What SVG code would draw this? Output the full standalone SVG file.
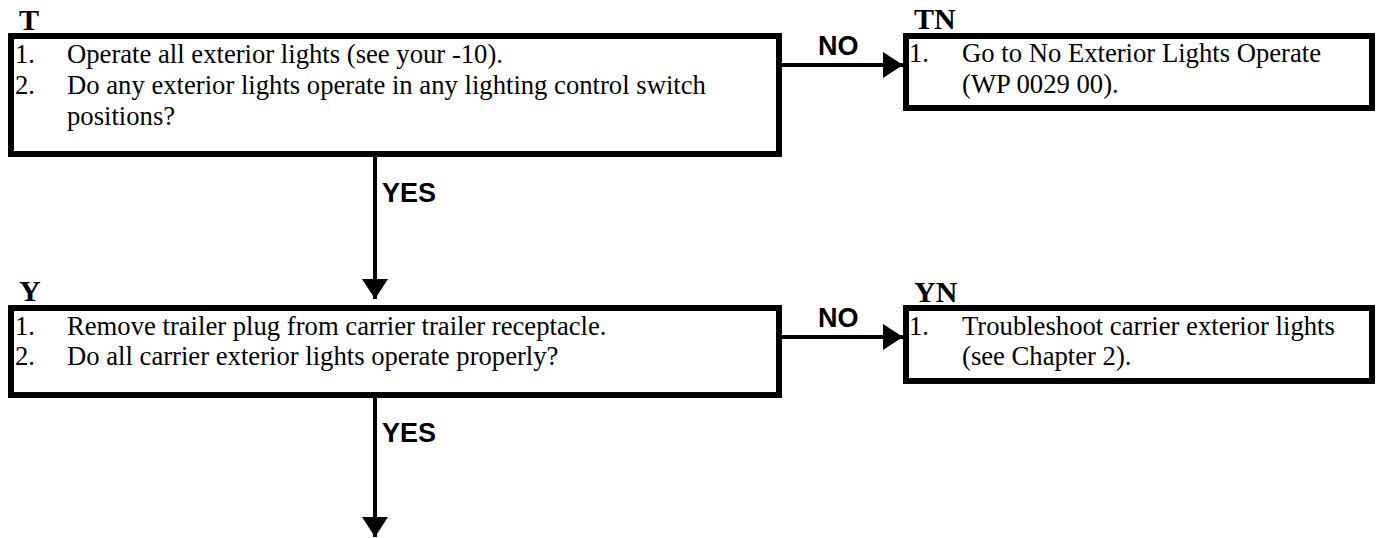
<svg xmlns="http://www.w3.org/2000/svg" width="1378" height="538" viewBox="0 0 1378 538">
<defs>
<style>
.box{fill:#fff;stroke:#000;stroke-width:6}
.lbl{font-family:"Liberation Serif",serif;font-weight:bold;font-size:30px;fill:#000}
.txt{font-family:"Liberation Serif",serif;font-size:26.67px;fill:#000}
.edge{stroke:#000;stroke-width:4;fill:none}
.elbl{font-family:"Liberation Sans",Arial,sans-serif;font-weight:bold;font-size:27px;fill:#000}
</style>
<marker id="ah" markerUnits="userSpaceOnUse" markerWidth="22" markerHeight="26" refX="20" refY="13" orient="auto">
<path d="M0,0 L20,13 L0,26 Z" fill="#000"/>
</marker>
</defs>
<rect width="1378" height="538" fill="#fff"/>
<g id="connectors">
<line class="edge" x1="782" y1="65" x2="903" y2="65" marker-end="url(#ah)"/>
<text class="elbl" x="818" y="55">NO</text>
<line class="edge" x1="375" y1="157" x2="375" y2="299" marker-end="url(#ah)"/>
<text class="elbl" x="382" y="202">YES</text>
<line class="edge" x1="782" y1="337" x2="903" y2="337" marker-end="url(#ah)"/>
<text class="elbl" x="818" y="327">NO</text>
<line class="edge" x1="375" y1="398" x2="375" y2="537" marker-end="url(#ah)"/>
<text class="elbl" x="382" y="442">YES</text>
</g>
<g id="node-T">
<text class="lbl" x="19" y="30">T</text>
<rect class="box" x="11" y="36" width="768" height="118"/>
<text class="txt" y="63"><tspan x="15">1.</tspan><tspan x="67">Operate all exterior lights (see your -10).</tspan></text>
<text class="txt" y="94"><tspan x="15">2.</tspan><tspan x="67">Do any exterior lights operate in any lighting control switch</tspan></text>
<text class="txt" x="67" y="125">positions?</text>
</g>
<g id="node-TN">
<text class="lbl" x="914" y="29">TN</text>
<rect class="box" x="906" y="36" width="466" height="72"/>
<text class="txt" y="62"><tspan x="909">1.</tspan><tspan x="962">Go to No Exterior Lights Operate</tspan></text>
<text class="txt" x="962" y="93">(WP 0029 00).</text>
</g>
<g id="node-Y">
<text class="lbl" x="19" y="301">Y</text>
<rect class="box" x="11" y="308" width="768" height="87"/>
<text class="txt" y="335"><tspan x="15">1.</tspan><tspan x="67">Remove trailer plug from carrier trailer receptacle.</tspan></text>
<text class="txt" y="365"><tspan x="15">2.</tspan><tspan x="67">Do all carrier exterior lights operate properly?</tspan></text>
</g>
<g id="node-YN">
<text class="lbl" x="914" y="302">YN</text>
<rect class="box" x="906" y="308" width="466" height="73"/>
<text class="txt" y="335"><tspan x="909">1.</tspan><tspan x="962">Troubleshoot carrier exterior lights</tspan></text>
<text class="txt" x="962" y="365">(see Chapter 2).</text>
</g>
</svg>
